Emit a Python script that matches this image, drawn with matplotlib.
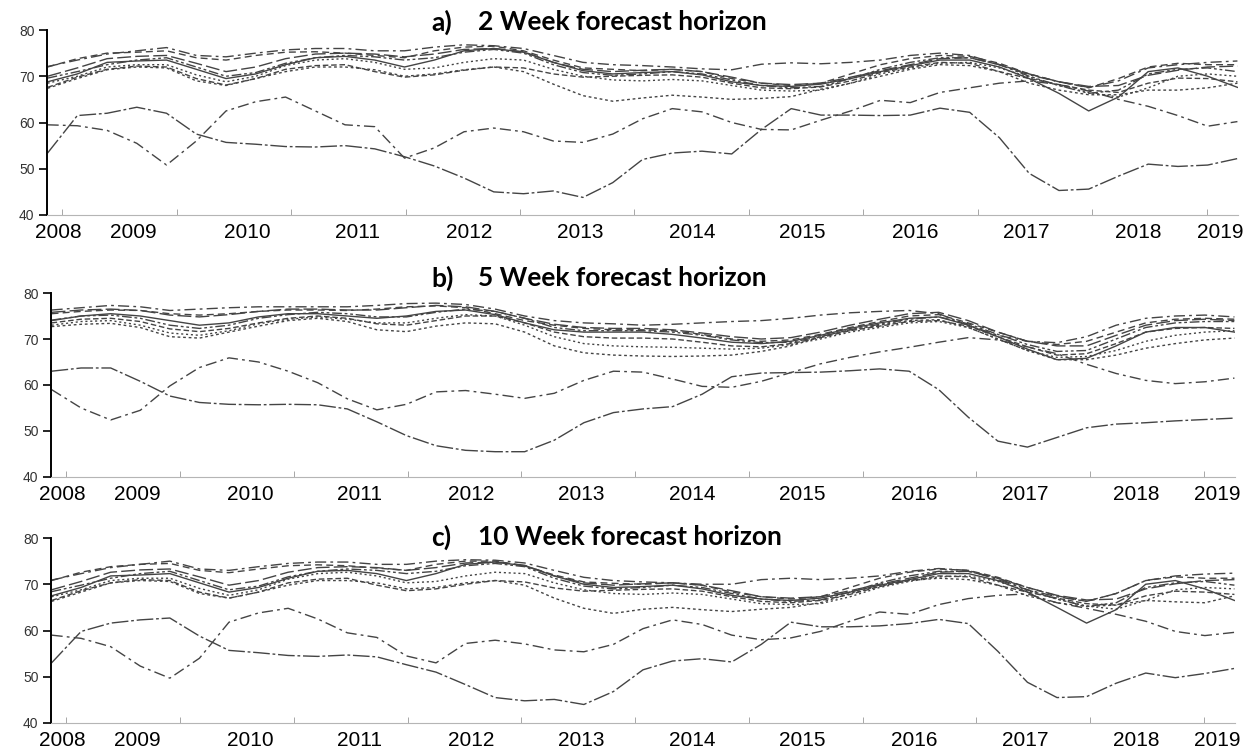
import numpy as np
import matplotlib.pyplot as plt

plt.rcParams['font.family'] = ['Liberation Sans', 'DejaVu Sans']

# sample dates in decimal years (roughly quarterly, Nov 2008 - Apr 2019)
t = np.linspace(2008.87, 2019.27, 41)

years = ['2008', '2009', '2010', '2011', '2012', '2013',
         '2014', '2015', '2016', '2017', '2018', '2019']
tags = ['a)', 'b)', 'c)']
horizons = ['2 Week forecast horizon', '5 Week forecast horizon', '10 Week forecast horizon']

# ---- 2 week horizon ----
wk2_u1 = [72.1, 73.5, 74.8, 75.5, 76.2, 74.5, 74.2, 75.0, 75.7, 76.0, 76.0, 75.5, 75.5, 76.3, 76.8, 76.6, 76.0, 74.5, 73.0, 72.5,
          72.3, 72.0, 71.6, 71.4, 72.6, 72.9, 72.7, 73.0, 73.5, 74.5, 75.0, 74.5, 72.5, 70.3, 68.8, 67.6, 69.0, 71.8, 72.5, 73.0, 73.3]
wk2_u2 = [72.0, 73.8, 75.0, 75.2, 75.5, 74.0, 73.5, 74.5, 75.2, 75.3, 75.0, 74.5, 74.0, 75.5, 76.3, 76.5, 75.5, 73.5, 71.8, 71.5,
          71.2, 71.5, 71.0, 69.5, 68.5, 68.0, 68.5, 70.5, 72.5, 73.8, 74.5, 74.3, 72.8, 70.5, 68.8, 67.5, 69.5, 72.0, 72.8, 72.5, 72.5]
wk2_u3 = [68.8, 70.5, 73.0, 73.3, 73.5, 71.5, 69.5, 70.5, 72.5, 74.0, 74.3, 73.5, 72.0, 73.5, 75.5, 76.0, 75.2, 73.0, 71.2, 70.5,
          70.8, 71.0, 70.3, 68.8, 68.0, 67.8, 68.3, 69.5, 71.0, 72.3, 73.5, 73.5, 72.0, 69.5, 66.3, 62.5, 65.5, 71.0, 71.8, 70.0, 67.6]
wk2_u4 = [67.4, 69.5, 71.4, 72.0, 71.8, 69.0, 68.0, 69.5, 71.0, 72.0, 72.0, 71.4, 70.0, 70.5, 71.4, 72.0, 71.0, 68.3, 65.8, 64.6,
          65.3, 65.9, 65.5, 65.0, 65.2, 65.6, 67.2, 68.5, 70.0, 71.5, 72.5, 72.3, 71.0, 68.5, 67.0, 66.0, 66.0, 67.0, 67.0, 67.5, 68.5]
wk2_u5 = [67.6, 69.8, 71.5, 72.2, 72.0, 69.5, 68.1, 69.5, 71.5, 72.3, 72.5, 71.0, 69.8, 70.3, 71.3, 72.0, 71.8, 70.5, 69.8, 70.0,
          70.2, 70.3, 69.8, 68.5, 67.5, 67.3, 67.7, 69.0, 70.8, 72.0, 73.0, 72.8, 71.0, 69.5, 68.2, 67.0, 66.5, 68.5, 69.6, 69.5, 68.8]
wk2_u6 = [69.6, 71.0, 72.5, 73.5, 74.0, 72.0, 70.0, 70.8, 72.8, 74.0, 74.5, 74.2, 73.5, 74.0, 75.2, 75.8, 75.0, 72.5, 70.8, 70.2,
          70.5, 71.0, 70.5, 69.2, 68.0, 67.5, 67.8, 69.5, 71.5, 73.0, 74.0, 74.0, 72.5, 70.0, 68.0, 66.3, 67.0, 70.5, 71.5, 71.8, 71.0]
wk2_u7 = [70.0, 71.8, 73.8, 74.3, 74.5, 72.8, 71.0, 72.0, 73.8, 74.8, 75.0, 74.8, 74.2, 74.8, 75.8, 76.0, 75.3, 73.0, 71.5, 71.0,
          71.3, 71.5, 71.0, 69.8, 68.5, 68.2, 68.5, 69.8, 71.2, 72.5, 73.8, 74.0, 72.5, 70.5, 68.8, 67.8, 68.0, 70.2, 71.3, 72.0, 72.2]
wk2_u8 = [68.5, 70.0, 72.0, 72.5, 72.5, 70.3, 68.8, 70.0, 72.3, 73.5, 73.8, 73.0, 71.5, 71.8, 73.0, 73.8, 73.5, 71.5, 70.0, 69.2,
          69.0, 69.3, 69.0, 68.0, 67.0, 66.8, 67.0, 68.5, 70.5, 71.8, 72.8, 73.0, 71.8, 69.8, 68.0, 66.5, 65.5, 67.5, 70.0, 70.5, 70.0]
wk2_l1 = [53.4, 61.5, 62.0, 63.3, 62.0, 57.5, 55.7, 55.3, 54.8, 54.7, 55.0, 54.3, 52.6, 50.6, 48.0, 45.0, 44.6, 45.2, 43.8, 47.0,
          52.0, 53.4, 53.8, 53.2, 58.5, 63.0, 61.6, 61.6, 61.5, 61.6, 63.1, 62.2, 56.7, 49.0, 45.3, 45.6, 48.4, 51.0, 50.5, 50.8, 52.2]
wk2_l2 = [59.5, 59.3, 58.3, 55.5, 50.8, 56.0, 62.5, 64.5, 65.5, 62.5, 59.5, 59.1, 52.3, 54.5, 58.0, 58.8, 58.0, 56.0, 55.7, 57.5,
          60.8, 63.0, 62.3, 60.0, 58.5, 58.4, 60.5, 62.5, 64.8, 64.3, 66.5, 67.5, 68.5, 69.0, 68.2, 66.8, 65.0, 63.5, 61.5, 59.2, 60.2]

# ---- 5 week horizon ----
wk5_u1 = [76.3, 76.8, 77.3, 77.0, 76.2, 76.5, 76.8, 77.0, 77.0, 77.0, 77.0, 77.3, 77.7, 77.8, 77.5, 76.5, 75.0, 74.0, 73.5, 73.3,
          73.0, 73.2, 73.5, 73.8, 74.0, 74.5, 75.2, 75.7, 76.0, 76.2, 75.5, 73.0, 70.8, 69.5, 69.2, 70.5, 73.0, 74.5, 75.0, 75.2, 74.8]
wk5_u2 = [75.5, 76.0, 76.3, 76.2, 75.5, 75.2, 75.5, 76.0, 76.3, 76.3, 76.2, 76.5, 77.0, 77.2, 76.8, 75.5, 74.0, 73.0, 72.3, 72.0,
          72.0, 71.8, 71.0, 70.0, 69.5, 69.8, 71.0, 72.5, 73.8, 75.0, 75.3, 73.5, 71.5, 69.5, 68.8, 69.5, 71.5, 73.5, 74.3, 74.5, 74.3]
wk5_u3 = [74.0, 75.0, 75.5, 75.0, 74.0, 73.0, 73.5, 74.8, 75.5, 75.5, 75.0, 74.5, 75.0, 76.0, 76.3, 75.3, 73.5, 72.0, 71.5, 71.5,
          71.5, 71.0, 70.2, 69.3, 69.0, 69.5, 70.8, 72.3, 73.5, 74.5, 74.8, 73.0, 70.5, 67.8, 65.5, 65.8, 68.5, 71.5, 72.5, 72.5, 71.5]
wk5_u4 = [72.7, 73.2, 73.4, 72.5, 70.5, 70.2, 71.5, 72.8, 74.0, 74.5, 73.8, 72.0, 71.6, 72.8, 73.5, 73.3, 71.5, 68.5, 67.0, 66.5,
          66.3, 66.2, 66.3, 66.5, 67.3, 68.5, 70.5, 72.0, 73.0, 74.0, 74.2, 72.5, 70.0, 67.5, 65.5, 65.5, 66.5, 68.0, 69.0, 69.8, 70.2]
wk5_u5 = [73.5, 74.3, 74.5, 73.8, 72.2, 71.6, 72.3, 73.5, 74.5, 75.0, 74.5, 73.3, 73.0, 74.0, 75.0, 75.0, 73.5, 71.5, 70.5, 70.2,
          70.2, 70.0, 69.3, 68.5, 68.3, 69.0, 70.3, 71.8, 72.8, 73.8, 74.0, 72.8, 70.5, 68.3, 66.5, 66.8, 69.0, 71.5, 72.3, 72.5, 72.3]
wk5_u6 = [74.1, 75.0, 75.2, 74.5, 73.0, 72.3, 73.0, 74.5, 75.3, 75.8, 75.5, 74.8, 74.8, 75.8, 76.5, 76.0, 74.5, 72.5, 71.8, 71.8,
          71.8, 71.5, 70.8, 69.8, 69.2, 69.3, 70.5, 72.0, 73.2, 74.3, 74.8, 73.3, 71.0, 68.8, 67.3, 67.5, 70.0, 72.5, 73.5, 73.8, 73.8]
wk5_u7 = [75.8, 76.3, 76.5, 76.2, 75.2, 74.8, 75.3, 76.0, 76.5, 76.5, 76.3, 76.3, 76.8, 77.3, 77.0, 76.0, 74.5, 73.2, 72.5, 72.3,
          72.3, 72.0, 71.3, 70.5, 70.0, 70.3, 71.5, 73.0, 74.3, 75.5, 75.8, 74.0, 71.5, 69.5, 68.5, 68.5, 70.8, 73.0, 74.0, 74.3, 74.0]
wk5_u8 = [73.0, 73.8, 74.0, 73.0, 71.3, 70.8, 71.8, 73.3, 74.3, 74.8, 74.3, 73.5, 73.5, 74.5, 75.3, 75.0, 73.0, 70.5, 69.0, 68.5,
          68.3, 68.2, 68.0, 67.8, 68.0, 68.8, 70.0, 71.5, 72.5, 73.5, 73.8, 72.5, 70.0, 67.5, 66.0, 66.2, 67.5, 69.5, 70.8, 71.5, 71.8]
wk5_l1 = [63.0, 63.7, 63.7, 60.8, 57.6, 56.2, 55.8, 55.7, 55.8, 55.7, 54.8, 52.0, 49.0, 46.8, 45.8, 45.5, 45.5, 48.0, 51.8, 54.0,
          54.8, 55.3, 58.0, 61.8, 62.6, 62.7, 62.8, 63.1, 63.5, 63.0, 59.0, 53.0, 47.8, 46.5, 48.6, 50.7, 51.5, 51.8, 52.2, 52.5, 52.8]
wk5_l2 = [59.0, 55.0, 52.4, 54.5, 59.8, 63.8, 65.9, 65.0, 63.0, 60.5, 57.0, 54.6, 55.8, 58.5, 58.8, 58.0, 57.1, 58.2, 61.0, 63.0,
          62.8, 61.3, 59.7, 59.5, 60.8, 62.7, 64.6, 66.0, 67.2, 68.2, 69.3, 70.3, 69.8, 68.3, 66.8, 64.5, 62.5, 61.0, 60.3, 60.7, 61.5]

# ---- 10 week horizon ----
wk10_u1 = [70.9, 72.3, 73.6, 74.3, 75.0, 73.3, 73.0, 73.8, 74.5, 74.8, 74.8, 74.3, 74.3, 75.0, 75.3, 75.2, 74.6, 73.0, 71.5, 70.8,
           70.5, 70.3, 70.0, 70.0, 71.0, 71.3, 71.0, 71.3, 71.8, 72.8, 73.4, 73.0, 71.0, 68.8, 67.3, 66.3, 68.0, 70.8, 71.8, 72.2, 72.4]
wk10_u2 = [70.8, 72.6, 73.8, 74.3, 74.5, 73.0, 72.5, 73.3, 74.0, 74.2, 74.0, 73.5, 73.0, 74.3, 75.0, 75.0, 74.0, 72.0, 70.5, 70.2,
           70.0, 70.3, 69.8, 68.3, 67.3, 66.8, 67.3, 69.3, 71.3, 72.6, 73.3, 73.0, 71.5, 69.3, 67.5, 66.3, 68.0, 70.8, 71.6, 71.3, 71.3]
wk10_u3 = [67.5, 69.3, 71.8, 72.0, 72.3, 70.3, 68.3, 69.3, 71.3, 72.8, 73.0, 72.3, 70.8, 72.3, 74.3, 74.8, 74.0, 71.8, 70.0, 69.3,
           69.5, 69.8, 69.0, 67.6, 66.8, 66.5, 67.0, 68.3, 69.8, 71.0, 72.3, 72.3, 70.8, 68.3, 65.0, 61.6, 64.5, 70.0, 70.8, 69.0, 66.5]
wk10_u4 = [66.3, 68.3, 70.3, 70.8, 70.6, 68.0, 67.0, 68.3, 69.8, 70.8, 70.8, 70.3, 69.0, 69.3, 70.3, 70.8, 69.8, 67.0, 64.8, 63.7,
           64.6, 65.0, 64.5, 64.1, 64.6, 65.0, 66.0, 68.0, 69.6, 70.8, 71.3, 71.0, 69.8, 67.5, 66.0, 65.2, 65.5, 66.5, 66.2, 66.0, 67.5]
wk10_u5 = [66.5, 68.6, 70.3, 71.0, 70.8, 68.3, 67.0, 68.3, 70.3, 71.1, 71.3, 69.8, 68.6, 69.0, 70.0, 70.8, 70.5, 69.2, 68.5, 68.7,
           68.9, 69.0, 68.5, 67.3, 66.3, 66.0, 66.5, 67.8, 69.5, 70.8, 71.8, 71.6, 69.8, 68.3, 67.0, 65.8, 65.5, 67.5, 68.5, 68.3, 67.8]
wk10_u6 = [68.4, 69.8, 71.3, 72.3, 72.8, 70.8, 68.8, 69.6, 71.6, 72.8, 73.3, 73.0, 72.3, 72.8, 74.0, 74.5, 73.8, 71.3, 69.6, 69.0,
           69.3, 69.8, 69.3, 68.0, 66.8, 66.3, 66.6, 68.3, 70.3, 71.8, 72.8, 72.8, 71.3, 68.8, 66.8, 65.2, 66.0, 69.3, 70.3, 70.6, 69.8]
wk10_u7 = [68.8, 70.6, 72.6, 73.1, 73.3, 71.6, 69.8, 70.8, 72.6, 73.6, 73.8, 73.6, 73.0, 73.6, 74.6, 74.8, 74.1, 71.8, 70.3, 69.8,
           70.1, 70.3, 69.8, 68.6, 67.3, 67.0, 67.3, 68.6, 70.0, 71.3, 72.6, 72.8, 71.3, 69.3, 67.6, 66.6, 66.8, 69.0, 70.1, 70.8, 71.0]
wk10_u8 = [67.3, 68.8, 70.8, 71.3, 71.3, 69.1, 67.6, 68.8, 71.1, 72.3, 72.6, 71.8, 70.3, 70.6, 71.8, 72.6, 72.3, 70.3, 68.8, 68.0,
           67.8, 68.1, 67.8, 66.8, 65.8, 65.6, 65.8, 67.3, 69.3, 70.6, 71.6, 71.8, 70.6, 68.6, 66.8, 65.3, 64.6, 66.5, 68.8, 69.3, 69.0]
wk10_l1 = [53.0, 59.8, 61.6, 62.3, 62.7, 58.8, 55.7, 55.2, 54.6, 54.4, 54.7, 54.3, 52.6, 51.0, 48.3, 45.5, 44.8, 45.1, 44.0, 46.8,
           51.5, 53.4, 53.9, 53.2, 57.0, 61.8, 60.8, 60.8, 61.0, 61.5, 62.4, 61.5, 55.5, 48.8, 45.5, 45.7, 48.6, 50.8, 49.8, 50.7, 51.8]
wk10_l2 = [59.0, 58.3, 56.5, 52.3, 49.7, 54.0, 61.8, 63.8, 64.8, 62.5, 59.5, 58.5, 54.5, 53.0, 57.2, 57.9, 57.1, 55.8, 55.4, 57.0,
           60.4, 62.3, 61.3, 59.0, 58.0, 58.4, 59.8, 62.0, 64.0, 63.5, 65.6, 66.9, 67.6, 67.9, 66.0, 64.8, 63.5, 62.0, 59.8, 58.9, 59.6]

panels = [
    [wk2_u1, wk2_u2, wk2_u3, wk2_u4, wk2_u5, wk2_u6, wk2_u7, wk2_u8, wk2_l1, wk2_l2],
    [wk5_u1, wk5_u2, wk5_u3, wk5_u4, wk5_u5, wk5_u6, wk5_u7, wk5_u8, wk5_l1, wk5_l2],
    [wk10_u1, wk10_u2, wk10_u3, wk10_u4, wk10_u5, wk10_u6, wk10_u7, wk10_u8, wk10_l1, wk10_l2],
]

styles = [(0, (8, 3, 2, 3)), (0, (5, 3)), '-', (0, (2, 2)), (0, (4, 2)),
          (0, (7, 2, 2, 2, 2, 2)), (0, (10, 3)), (0, (1.5, 2)),
          (0, (12, 2, 2, 2)), (0, (8, 3, 2, 3))]

# where the year labels sit along the axis (they fall between the year ticks)
label_at = [2008.965, 2009.621, 2010.617, 2011.579, 2012.558, 2013.528,
            2014.507, 2015.469, 2016.456, 2017.427, 2018.406, 2019.122]

W, H = 1258, 751
fig = plt.figure(figsize=(W / 100, H / 100), dpi=100)

# axes boxes in pixels: left, top, right, bottom
boxes = [(47, 30, 1238, 215), (51, 293, 1235, 477), (51, 538, 1235, 723)]
title_y = [22, 278, 537]

for i, (x0, y0, x1, y1) in enumerate(boxes):
    ax = fig.add_axes([x0 / W, 1 - y1 / H, (x1 - x0) / W, (y1 - y0) / H])
    for s, ls in zip(panels[i], styles):
        ax.plot(t, s, color='#444444', lw=1.0, ls=ls)
    ax.set_xlim(2008.865, 2019.275)
    ax.set_ylim(40, 80)
    ax.spines['top'].set_visible(False)
    ax.spines['right'].set_visible(False)
    ax.spines['left'].set_linewidth(1.4)
    ax.spines['bottom'].set_color('#b5b5b5')
    ax.set_yticks([40, 50, 60, 70, 80])
    ax.tick_params(axis='y', length=6, width=1.2, pad=3, labelsize=10, labelcolor='#333333')
    ax.set_xticks(label_at)
    ax.set_xticklabels(years)
    ax.tick_params(axis='x', which='major', length=0, pad=6, labelsize=15)
    ax.set_xticks(range(2009, 2020), minor=True)
    ax.tick_params(axis='x', which='minor', direction='in', length=4, color='#999999')

    fig.text(431 / W, 1 - title_y[i] / H, tags[i], ha='left', va='center',
             fontsize=19, fontweight='bold', family='Lato')
    fig.text(478 / W, 1 - title_y[i] / H, horizons[i], ha='left', va='center',
             fontsize=19, fontweight='bold', family='Lato')

plt.savefig('out.png', dpi=100)
